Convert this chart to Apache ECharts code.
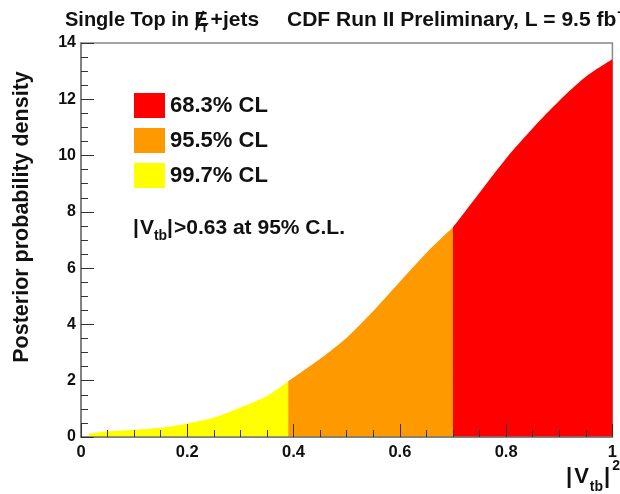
<!DOCTYPE html>
<html>
<head>
<meta charset="utf-8">
<script src="https://cdn.jsdelivr.net/npm/echarts@6/dist/echarts.min.js"></script>
<style>
html,body{margin:0;padding:0;background:#fff;}
#chart{width:620px;height:494px;}
</style>
</head>
<body>
<div id="chart"></div>
<script>
// ---- data ----
const vtb2 = [0.015, 0.05, 0.10, 0.15, 0.20, 0.25, 0.30, 0.35, 0.39, 0.45, 0.50, 0.55, 0.60, 0.65, 0.70, 0.75, 0.80, 0.85, 0.90, 0.95, 1.00];
const density = [0.12, 0.20, 0.26, 0.33, 0.48, 0.69, 1.05, 1.46, 1.98, 2.78, 3.53, 4.48, 5.52, 6.54, 7.45, 8.68, 9.90, 10.97, 11.95, 12.80, 13.42];
const cut997 = 0.015;   // start of 99.7% band
const cut955 = 0.39;    // start of 95.5% band
const cut683 = 0.70;    // start of 68.3% band
const bandNames = ['99.7% CL', '95.5% CL', '68.3% CL'];
const legendOrder = ['68.3% CL', '95.5% CL', '99.7% CL'];
const bandColors = {'99.7% CL': '#ffff00', '95.5% CL': '#ff9900', '68.3% CL': '#ff0000'};

const FONT = '"Liberation Sans", Arial, Helvetica, sans-serif';
const ctx = document.createElement('canvas').getContext('2d');
function tw(t, s) { ctx.font = 'bold ' + s + 'px ' + FONT; return ctx.measureText(t).width; }
function txt(t, x, y, s, extra) {
  return Object.assign({
    type: 'text', silent: true,
    style: { text: t, x: x, y: y, fontSize: s, fontWeight: 'bold', fontFamily: FONT,
             fill: '#111', textAlign: 'left', textVerticalAlign: 'middle', verticalAlign: 'middle' }
  }, extra || {});
}
function run(parts, x, y) {
  const els = [];
  parts.forEach(p => {
    els.push(txt(p.t, x + (p.dx || 0), y + (p.dy || 0), p.s));
    x += (p.dx || 0) + tw(p.t, p.s) + (p.after || 0);
  });
  return els;
}

function band(lo, hi) {
  const out = [];
  for (let i = 0; i < vtb2.length; i++) {
    if (vtb2[i] >= lo - 1e-9 && vtb2[i] <= hi + 1e-9) out.push([vtb2[i], density[i]]);
  }
  return out;
}
const ranges = {'99.7% CL': [cut997, cut955], '95.5% CL': [cut955, cut683], '68.3% CL': [cut683, 1.0]};

const series = bandNames.map(n => ({
  name: n, type: 'line', data: band(ranges[n][0], ranges[n][1]),
  smooth: 0.3, showSymbol: false, symbol: 'none',
  lineStyle: { width: 0, opacity: 0 },
  areaStyle: { color: bandColors[n], opacity: 1 },
  z: 1, animation: false
}));

const graphics = [];
// title left: Single Top in MET+jets
const tl = 'Single Top in ';
graphics.push(txt(tl, 65, 20, 20));
const ex = 65 + tw(tl, 20);
graphics.push(txt('E', ex, 20, 20));
graphics.push({ type: 'line', silent: true, shape: { x1: ex + 1, y1: 30, x2: ex + 9, y2: 11 }, style: { stroke: '#111', lineWidth: 2 } });
graphics.push(txt('T', ex + 6, 28, 13));
graphics.push(txt('+jets', ex + 16, 20, 21));
// title right
const tr = 'CDF Run II Preliminary, L = 9.5 fb';
graphics.push(txt(tr, 287, 20, 21));
graphics.push(txt('-1', 287 + tw(tr, 21) + 1, 13, 12));

// legend boxes
legendOrder.forEach((n, i) => {
  const y = 93 + i * 35;
  graphics.push({ type: 'rect', silent: true, shape: { x: 134, y: y, width: 31, height: 25 }, style: { fill: bandColors[n] } });
  graphics.push(txt(n, 170, y + 13, 22));
});

// |Vtb|>0.63 at 95% C.L.
run([
  { t: '|', s: 21, after: 1 },
  { t: 'V', s: 21 },
  { t: 'tb', s: 14, dy: 8 },
  { t: '|', s: 21, after: 1 },
  { t: '>0.63 at 95% C.L.', s: 21 }
], 133, 228).forEach(e => graphics.push(e));

// x axis title |Vtb|^2
run([
  { t: '|', s: 22, after: 2 },
  { t: 'V', s: 22, after: 1 },
  { t: 'tb', s: 14, dy: 10, after: 1 },
  { t: '|', s: 22, after: 2 },
  { t: '2', s: 14, dy: -11 }
], 566, 477).forEach(e => graphics.push(e));

// y axis title
graphics.push({
  type: 'text', silent: true, x: 22, y: 217, rotation: Math.PI / 2,
  style: { text: 'Posterior probability density', x: 0, y: 0, fontSize: 21.5, fontWeight: 'bold', fontFamily: FONT,
           fill: '#111', textAlign: 'center', textVerticalAlign: 'middle', verticalAlign: 'middle' }
});

const axisCommon = {
  z: 5,
  axisLine: { show: true, lineStyle: { color: '#777', width: 1.5 } },
  axisTick: { show: true, inside: true, length: 13, lineStyle: { color: '#333', width: 1 } },
  minorTick: { show: true, splitNumber: 4, length: 7, lineStyle: { color: '#333', width: 1 } },
  splitLine: { show: false },
  minorSplitLine: { show: false }
};

const chart = echarts.init(document.getElementById('chart'), null, { renderer: 'canvas' });
chart.setOption({
  animation: false,
  backgroundColor: '#fff',
  grid: { left: 81, right: 7, top: 43, bottom: 57, show: true, borderColor: '#888', borderWidth: 1.5, backgroundColor: 'transparent' },
  xAxis: Object.assign({
    type: 'value', min: 0, max: 1, interval: 0.2,
    axisLabel: { fontSize: 16.5, fontWeight: 'bold', fontFamily: FONT, color: '#111', margin: 7,
                 formatter: v => (v === 0 ? '0' : v === 1 ? '1' : v.toFixed(1)) }
  }, axisCommon),
  yAxis: Object.assign({
    type: 'value', min: 0, max: 14, interval: 2,
    axisLabel: { fontSize: 16, fontWeight: 'bold', fontFamily: FONT, color: '#111', margin: 5 }
  }, axisCommon),
  series: series,
  graphic: graphics
});
</script>
</body>
</html>
